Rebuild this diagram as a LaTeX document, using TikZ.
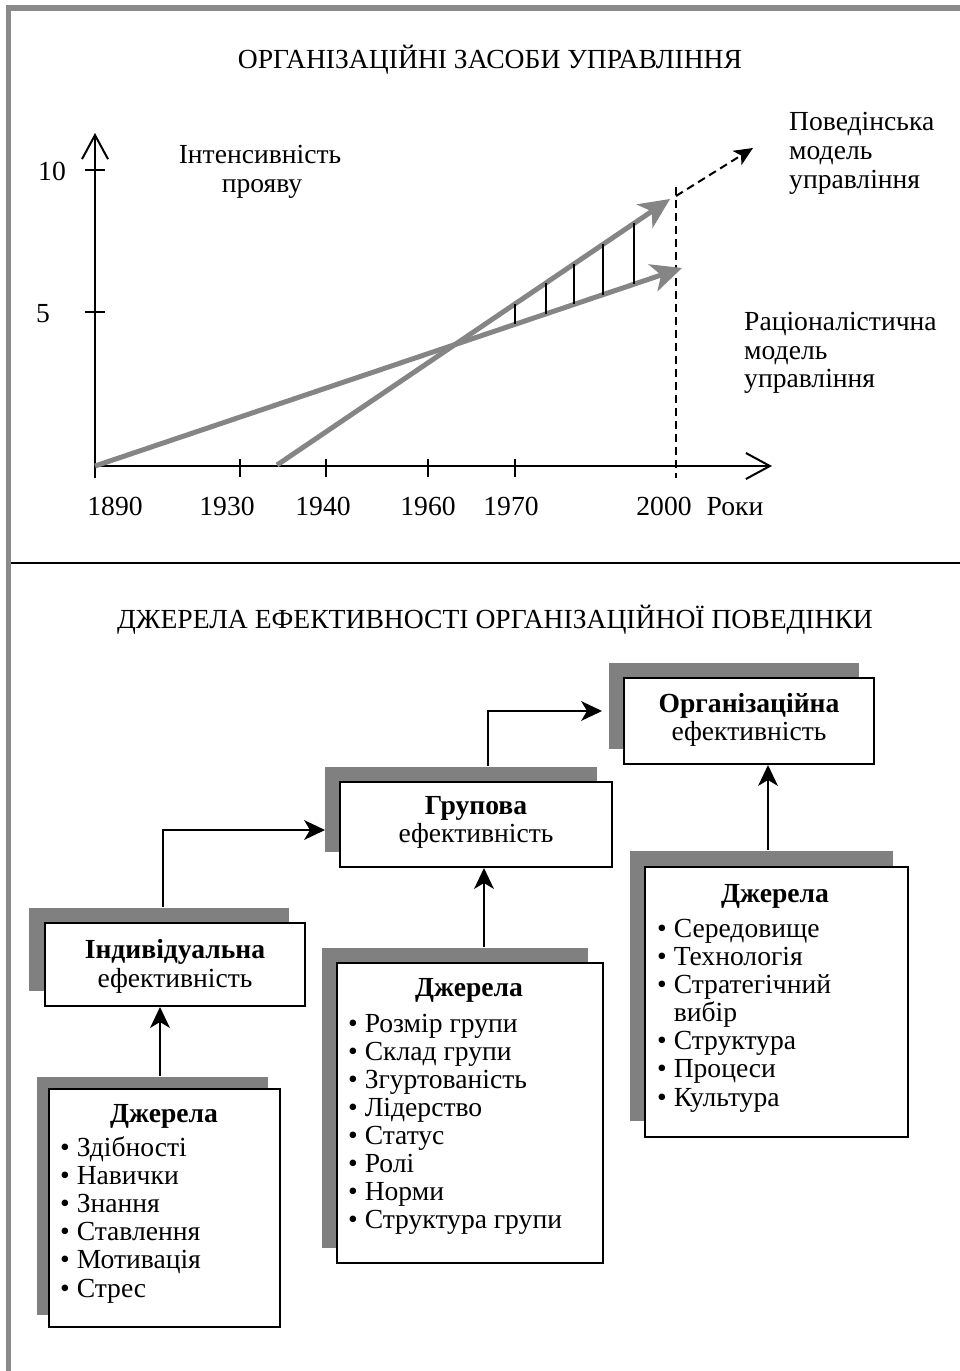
\documentclass[tikz,border=0pt]{standalone}
\usepackage{fontspec}
\setmainfont{Liberation Serif}
\usetikzlibrary{arrows.meta,shadows,calc}
\definecolor{framegray}{HTML}{8A8A8A}
\definecolor{shadegray}{HTML}{808080}
\definecolor{trendgray}{HTML}{858585}

\begin{document}
\begin{tikzpicture}[x=1pt,y=-1pt,
  every node/.style={inner sep=0pt, font=\fontsize{27.6}{29}\selectfont},
  txt/.style={anchor=base},
  ltxt/.style={anchor=base west},
  btxt/.style={anchor=base, font=\fontsize{27.6}{29}\selectfont\bfseries},
  axisline/.style={line width=2pt, -{Straight Barb[length=24pt,width=26pt,line width=2pt]}},
  tickline/.style={line width=2pt},
  trend/.style={draw=trendgray, line width=5pt, -{Stealth[length=31pt,width=29pt,inset=9pt,line width=0pt]}},
  hatch/.style={line width=2pt},
  guide/.style={line width=2pt, dash pattern=on 8pt off 5pt},
  guidearrow/.style={guide, -{Stealth[length=19pt,width=17pt,inset=5pt,line width=0pt]}},
  box/.style={draw, line width=2pt, fill=white, rectangle, minimum width=#1},
  shadowed/.style 2 args={general shadow={fill=shadegray, shadow xshift=#1, shadow yshift=#2}},
  conn/.style={line width=2pt, -{Stealth[length=21pt,width=20pt,inset=6pt,line width=0pt]}}
]
\useasboundingbox (0,0) rectangle (960,1371);

% frame and divider
\draw[framegray, line width=6pt] (6,8) -- (960,8);
\draw[framegray, line width=5pt] (8.5,5) -- (8.5,1371);
\draw[line width=2.5pt] (11,563) -- (960,563);

% ---------- upper panel: chart ----------
\node[txt] (title1) at (490,68) {ОРГАНІЗАЦІЙНІ ЗАСОБИ УПРАВЛІННЯ};

\coordinate (O) at (95,466);
\coordinate (Ytop) at (95,133);
\coordinate (Ybot) at (95,478);
\coordinate (Xend) at (772,466);
\draw[axisline] (Ybot) -- (Ytop);
\draw[axisline] (O) -- (Xend);

% y ticks
\draw[tickline] (85,170) -- (105,170);
\draw[tickline] (85,312) -- (105,312);
\node[txt] (y10) at (52,180) {10};
\node[txt] (y5) at (43,322) {5};

% x ticks
\foreach \x in {240,326,428,515} \draw[tickline] (\x,459) -- (\x,477);
\node[txt] (t1890) at (115,515) {1890};
\node[txt] (t1930) at (227,515) {1930};
\node[txt] (t1940) at (323,515) {1940};
\node[txt] (t1960) at (428,515) {1960};
\node[txt] (t1970) at (511,515) {1970};
\node[txt] (t2000) at (664,515) {2000};
\node[txt] (years) at (735,515) {Роки};

\node[txt] (ylab1) at (260,163) {Інтенсивність};
\node[txt] (ylab2) at (262,192) {прояву};

% 2000 guide and continuation
\coordinate (G1) at (676,187);
\coordinate (G2) at (676,478);
\coordinate (D1) at (676,196);
\coordinate (D2) at (753,148);
\draw[guide] (G1) -- (G2);
\draw[guidearrow] (D1) -- (D2);

% trend lines
\coordinate (R1) at (95,466);
\coordinate (R2) at (682,268);
\coordinate (B1s) at (277,465);
\coordinate (B2s) at (670,199);
\draw[trend] (R1) -- (R2);
\draw[trend] (B1s) -- (B2s);

% hatching between the trends
\foreach \x/\a/\b in {515/304/324.3, 546/283/313.8, 574/264/304.4, 603/244.4/294.6, 634/223.4/284.2}
  \draw[hatch] (\x,\a) -- (\x,\b);

\node[ltxt] (beh1) at (789,130) {Поведінська};
\node[ltxt] (beh2) at (789,159) {модель};
\node[ltxt] (beh3) at (789,188) {управління};
\node[ltxt] (rat1) at (744,330) {Раціоналістична};
\node[ltxt] (rat2) at (744,359) {модель};
\node[ltxt] (rat3) at (744,387) {управління};

% ---------- lower panel: sources of effectiveness ----------
\node[txt] (title2) at (495,628) {ДЖЕРЕЛА ЕФЕКТИВНОСТІ ОРГАНІЗАЦІЙНОЇ ПОВЕДІНКИ};

% effectiveness levels
\node[box=260pt, minimum height=83pt, shadowed={-16pt}{15pt}] (ind) at (175,964.5) {};
\node[box=272pt, minimum height=85pt, shadowed={-15pt}{15pt}] (grp) at (476,824.5) {};
\node[box=250pt, minimum height=86pt, shadowed={-15pt}{15pt}] (org) at (749,721) {};

\node[btxt] (indA) at (175,958) {Індивідуальна};
\node[txt]  (indB) at (175,987) {ефективність};
\node[btxt] (grpA) at (476,814) {Групова};
\node[txt]  (grpB) at (476,842) {ефективність};
\node[btxt] (orgA) at (749,712) {Організаційна};
\node[txt]  (orgB) at (749,740) {ефективність};

% source boxes
\node[box=231pt, minimum height=238pt, shadowed={-12pt}{12pt}] (src1) at (164.5,1208) {};
\node[box=266pt, minimum height=300pt, shadowed={-15pt}{15pt}] (src2) at (470,1113) {};
\node[box=263pt, minimum height=270pt, shadowed={-15pt}{16pt}] (src3) at (776.5,1002) {};

\node[btxt] (src1h) at (164,1122) {Джерела};
\node[btxt] (src2h) at (469,996) {Джерела};
\node[btxt] (src3h) at (775,902) {Джерела};

\foreach \t [count=\i from 0] in {• Здібності, • Навички, • Знання, • Ставлення, • Мотивація, • Стрес}
  \node[ltxt] (s1-\i) at (60,{1156+28.2*\i}) {\t};
\foreach \t [count=\i from 0] in {• Розмір групи, • Склад групи, • Згуртованість, • Лідерство, • Статус, • Ролі, • Норми, • Структура групи}
  \node[ltxt] (s2-\i) at (348,{1032+28*\i}) {\t};
\foreach \t [count=\i from 0] in {• Середовище, • Технологія, • Стратегічний, {\hphantom{•\ }вибір}, • Структура, • Процеси, • Культура}
  \node[ltxt] (s3-\i) at (657,{937+28.17*\i}) {\t};

% connectors
\draw[conn] ([xshift=-4.5pt,yshift=12pt]src1.north) -- ([xshift=-4.5pt]src1.north |- ind.south);
\draw[conn] ([xshift=14pt,yshift=15pt]src2.north) -- ([xshift=14pt]src2.north |- grp.south);
\draw[conn] ([xshift=-8.5pt,yshift=16pt]src3.north) -- ([xshift=-8.5pt]src3.north |- org.south);
\draw[conn] ([xshift=-12pt,yshift=15pt]ind.north) |- ([xshift=-14pt,yshift=-5.5pt]grp.west);
\draw[conn] ([xshift=12pt,yshift=15pt]grp.north) |- ([xshift=-21pt,yshift=10pt]org.west);
\end{tikzpicture}
\end{document}
